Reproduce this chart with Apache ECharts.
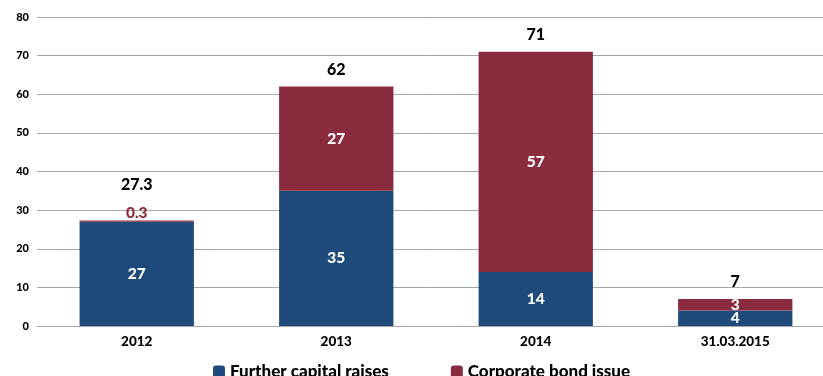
<!DOCTYPE html>
<html><head><meta charset="utf-8">
<script src="https://cdn.jsdelivr.net/npm/echarts@6/dist/echarts.min.js"></script>
<style>html,body{margin:0;padding:0;background:#fff}#c{width:823px;height:376px}</style>
</head><body><div id="c"></div>
<script>
var categories = ['2012', '2013', '2014', '31.03.2015'];
var capitalRaises = [27, 35, 14, 4];
var bondIssue = [0.3, 27, 57, 3];
var totals = [27.3, 62, 71, 7];
var yTicks = [0, 10, 20, 30, 40, 50, 60, 70, 80];

var FONT = 'Lato';
var W = 900;
var chart = echarts.init(document.getElementById('c'), null, {renderer: 'canvas'});
chart.setOption({
  animation: false,
  textStyle: {fontFamily: FONT},
  grid: {left: 37, width: 798, top: 17, height: 309, outerBoundsMode: 'none', containLabel: false},
  legend: {
    bottom: -9, left: 208, itemWidth: 12, itemHeight: 12, itemGap: 62,
    textStyle: {fontFamily: FONT, fontWeight: W, fontSize: 17, color: '#000'},
    data: ['Further capital raises', 'Corporate bond issue']
  },
  xAxis: {
    type: 'category', data: categories,
    axisLine: {lineStyle: {color: '#A6A6A6'}}, axisTick: {show: false},
    axisLabel: {fontFamily: FONT, fontWeight: W, fontSize: 13.5, color: '#000', margin: 9}
  },
  yAxis: {
    type: 'value', min: yTicks[0], max: yTicks[yTicks.length - 1], interval: 10,
    axisLine: {show: false}, axisTick: {show: false},
    splitLine: {lineStyle: {color: '#A6A6A6'}},
    axisLabel: {fontFamily: FONT, fontWeight: W, fontSize: 11, color: '#000', margin: 8}
  },
  series: [
    {
      name: 'Further capital raises', type: 'bar', stack: 's', barWidth: '57.3%',
      data: capitalRaises,
      itemStyle: {color: '#1F4A7C'},
      label: {show: true, position: 'inside', color: '#fff', fontFamily: FONT, fontWeight: W, fontSize: 15.5}
    },
    {
      name: 'Corporate bond issue', type: 'bar', stack: 's', barWidth: '57.3%',
      data: bondIssue.map(function (v) {
        if (v < 1) {
          return {value: v, label: {position: 'top', color: '#8B2C3E', distance: 0}};
        }
        return v;
      }),
      itemStyle: {color: '#8B2C3E'},
      label: {show: true, position: 'inside', color: '#fff', fontFamily: FONT, fontWeight: W, fontSize: 15.5}
    },
    {
      name: 'total', type: 'bar', stack: 's', barWidth: '57.3%',
      data: totals.map(function (t, i) {
        var d = {value: 0};
        if (bondIssue[i] < 1) d.label = {distance: 28};
        return d;
      }),
      itemStyle: {color: 'transparent'},
      label: {
        show: true, position: 'top', distance: 9, color: '#000', fontFamily: FONT, fontWeight: W, fontSize: 16,
        formatter: function (p) { return String(totals[p.dataIndex]); }
      }
    }
  ]
});
</script></body></html>
